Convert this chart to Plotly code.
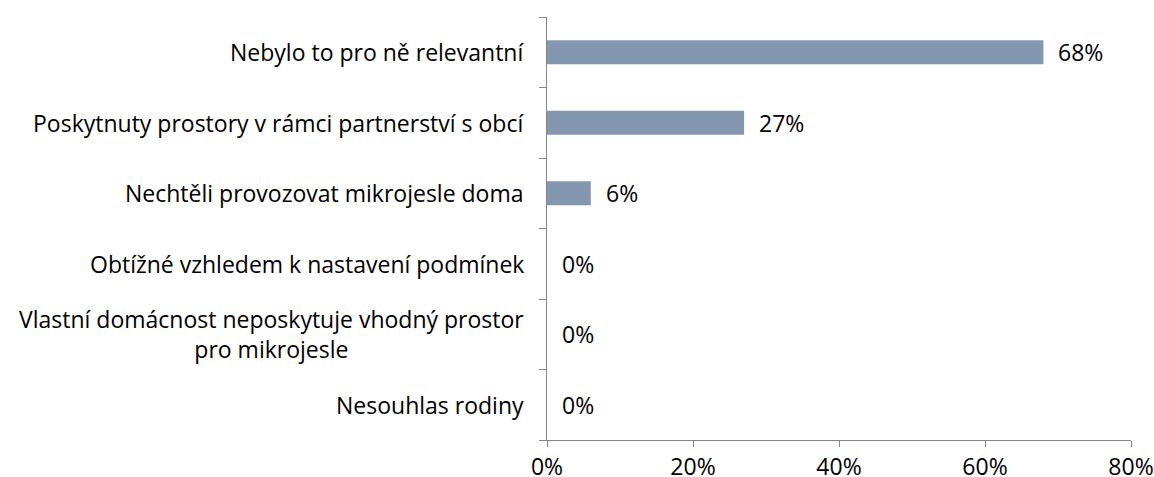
import plotly.graph_objects as go

# Datos (de arriba hacia abajo)
categorias = [
    "Nebylo to pro ně relevantní",
    "Poskytnuty prostory v rámci partnerství s obcí",
    "Nechtěli provozovat mikrojesle doma",
    "Obtížné vzhledem k nastavení podmínek",
    "Vlastní domácnost neposkytuje vhodný prostor<br>pro mikrojesle",
    "Nesouhlas rodiny",
]
valores = [0.68, 0.27, 0.06, 0.0, 0.0, 0.0]
ticks_x = [0, 0.2, 0.4, 0.6, 0.8]
ticks_x_texto = ["0%", "20%", "40%", "60%", "80%"]

FUENTE = "Open Sans"
TAM = 23
COLOR_BARRA = "#8497B0"
COLOR_EJE = "#868686"

# Invertir para que el primero quede arriba
cats = categorias[::-1]
vals = valores[::-1]

fig = go.Figure()

fig.add_trace(
    go.Bar(
        x=vals,
        y=cats,
        orientation="h",
        marker=dict(color=COLOR_BARRA, line=dict(width=0)),
        width=0.34,
        hoverinfo="skip",
    )
)

# Etiquetas de valor al final de cada barra
for c, v in zip(cats, vals):
    fig.add_annotation(
        x=v, y=c, xref="x", yref="y",
        text=f"{v:.0%}", showarrow=False,
        xanchor="left", xshift=13,
        font=dict(family=FUENTE, size=TAM, color="#000000"),
    )

# Etiquetas de categoría (centradas en varias líneas)
for c in cats:
    fig.add_annotation(
        x=0, y=c, xref="x", yref="y",
        text=c, showarrow=False, align="center",
        xanchor="right", xshift=-21,
        font=dict(family=FUENTE, size=TAM, color="#000000"),
    )

fig.update_xaxes(
    range=[0, 0.8],
    tickvals=ticks_x,
    ticktext=ticks_x_texto,
    showgrid=False,
    zeroline=False,
    showline=True,
    linecolor=COLOR_EJE,
    linewidth=1,
    ticks="outside",
    ticklen=6,
    tickcolor=COLOR_EJE,
    automargin=False,
    tickfont=dict(family=FUENTE, size=TAM, color="#000000"),
)
fig.update_yaxes(
    categoryorder="array",
    categoryarray=cats,
    showgrid=False,
    zeroline=False,
    showline=True,
    linecolor=COLOR_EJE,
    linewidth=1,
    ticks="outside",
    ticklen=7,
    tickcolor=COLOR_EJE,
    tickson="boundaries",
    showticklabels=False,
    automargin=False,
)

fig.update_layout(
    width=1154,
    height=477,
    margin=dict(l=547, r=23, t=17, b=37),
    plot_bgcolor="white",
    paper_bgcolor="white",
    showlegend=False,
    font=dict(family=FUENTE, size=TAM, color="#000000"),
)

# Quitar el margen del body para que la figura quede en (0, 0)
fig.write_html(
    "out.html",
    config={"displayModeBar": False},
    post_script="document.body.style.margin='0';",
)
